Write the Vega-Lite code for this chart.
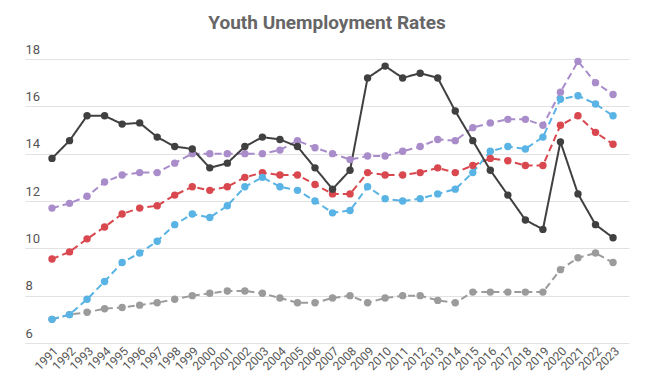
{
"$schema": "https://vega.github.io/schema/vega-lite/v6.json",
"width": 604, "height": 284,
"autosize": {"type": "none"},
"padding": {"left": 25, "top": 59, "right": 21, "bottom": 48},
"background": "white",
"config": {"font": "Roboto", "view": {"stroke": null}},
"title": {"text": "Youth Unemployment Rates", "fontSize": 19, "fontWeight": "bold", "color": "#666666", "font": "Roboto", "frame": "group", "anchor": "middle", "offset": 10},
"data": {"values": [
{"year":1991,"series":"D","value":7.0},{"year":1992,"series":"D","value":7.2},{"year":1993,"series":"D","value":7.3},{"year":1994,"series":"D","value":7.45},{"year":1995,"series":"D","value":7.5},{"year":1996,"series":"D","value":7.6},{"year":1997,"series":"D","value":7.7},{"year":1998,"series":"D","value":7.85},{"year":1999,"series":"D","value":8.0},{"year":2000,"series":"D","value":8.1},{"year":2001,"series":"D","value":8.2},{"year":2002,"series":"D","value":8.2},{"year":2003,"series":"D","value":8.1},{"year":2004,"series":"D","value":7.9},{"year":2005,"series":"D","value":7.7},{"year":2006,"series":"D","value":7.7},{"year":2007,"series":"D","value":7.9},{"year":2008,"series":"D","value":8.0},{"year":2009,"series":"D","value":7.7},{"year":2010,"series":"D","value":7.9},{"year":2011,"series":"D","value":8.0},{"year":2012,"series":"D","value":8.0},{"year":2013,"series":"D","value":7.8},{"year":2014,"series":"D","value":7.7},{"year":2015,"series":"D","value":8.15},{"year":2016,"series":"D","value":8.15},{"year":2017,"series":"D","value":8.15},{"year":2018,"series":"D","value":8.15},{"year":2019,"series":"D","value":8.15},{"year":2020,"series":"D","value":9.1},{"year":2021,"series":"D","value":9.6},{"year":2022,"series":"D","value":9.8},{"year":2023,"series":"D","value":9.4},
{"year":1991,"series":"C","value":11.7},{"year":1992,"series":"C","value":11.9},{"year":1993,"series":"C","value":12.2},{"year":1994,"series":"C","value":12.8},{"year":1995,"series":"C","value":13.1},{"year":1996,"series":"C","value":13.2},{"year":1997,"series":"C","value":13.2},{"year":1998,"series":"C","value":13.6},{"year":1999,"series":"C","value":14.0},{"year":2000,"series":"C","value":14.0},{"year":2001,"series":"C","value":14.0},{"year":2002,"series":"C","value":14.0},{"year":2003,"series":"C","value":14.0},{"year":2004,"series":"C","value":14.15},{"year":2005,"series":"C","value":14.55},{"year":2006,"series":"C","value":14.25},{"year":2007,"series":"C","value":14.0},{"year":2008,"series":"C","value":13.75},{"year":2009,"series":"C","value":13.9},{"year":2010,"series":"C","value":13.9},{"year":2011,"series":"C","value":14.1},{"year":2012,"series":"C","value":14.3},{"year":2013,"series":"C","value":14.6},{"year":2014,"series":"C","value":14.55},{"year":2015,"series":"C","value":15.1},{"year":2016,"series":"C","value":15.3},{"year":2017,"series":"C","value":15.45},{"year":2018,"series":"C","value":15.45},{"year":2019,"series":"C","value":15.2},{"year":2020,"series":"C","value":16.6},{"year":2021,"series":"C","value":17.9},{"year":2022,"series":"C","value":17.0},{"year":2023,"series":"C","value":16.5},
{"year":1991,"series":"B","value":9.55},{"year":1992,"series":"B","value":9.85},{"year":1993,"series":"B","value":10.4},{"year":1994,"series":"B","value":10.9},{"year":1995,"series":"B","value":11.45},{"year":1996,"series":"B","value":11.7},{"year":1997,"series":"B","value":11.8},{"year":1998,"series":"B","value":12.25},{"year":1999,"series":"B","value":12.6},{"year":2000,"series":"B","value":12.45},{"year":2001,"series":"B","value":12.6},{"year":2002,"series":"B","value":13.0},{"year":2003,"series":"B","value":13.2},{"year":2004,"series":"B","value":13.1},{"year":2005,"series":"B","value":13.1},{"year":2006,"series":"B","value":12.7},{"year":2007,"series":"B","value":12.3},{"year":2008,"series":"B","value":12.3},{"year":2009,"series":"B","value":13.2},{"year":2010,"series":"B","value":13.1},{"year":2011,"series":"B","value":13.1},{"year":2012,"series":"B","value":13.2},{"year":2013,"series":"B","value":13.4},{"year":2014,"series":"B","value":13.2},{"year":2015,"series":"B","value":13.5},{"year":2016,"series":"B","value":13.8},{"year":2017,"series":"B","value":13.7},{"year":2018,"series":"B","value":13.5},{"year":2019,"series":"B","value":13.5},{"year":2020,"series":"B","value":15.2},{"year":2021,"series":"B","value":15.6},{"year":2022,"series":"B","value":14.9},{"year":2023,"series":"B","value":14.4},
{"year":1991,"series":"E","value":7.0},{"year":1992,"series":"E","value":7.2},{"year":1993,"series":"E","value":7.85},{"year":1994,"series":"E","value":8.6},{"year":1995,"series":"E","value":9.4},{"year":1996,"series":"E","value":9.8},{"year":1997,"series":"E","value":10.3},{"year":1998,"series":"E","value":11.0},{"year":1999,"series":"E","value":11.45},{"year":2000,"series":"E","value":11.3},{"year":2001,"series":"E","value":11.8},{"year":2002,"series":"E","value":12.6},{"year":2003,"series":"E","value":13.0},{"year":2004,"series":"E","value":12.6},{"year":2005,"series":"E","value":12.45},{"year":2006,"series":"E","value":12.0},{"year":2007,"series":"E","value":11.5},{"year":2008,"series":"E","value":11.6},{"year":2009,"series":"E","value":12.6},{"year":2010,"series":"E","value":12.1},{"year":2011,"series":"E","value":12.0},{"year":2012,"series":"E","value":12.1},{"year":2013,"series":"E","value":12.3},{"year":2014,"series":"E","value":12.5},{"year":2015,"series":"E","value":13.2},{"year":2016,"series":"E","value":14.1},{"year":2017,"series":"E","value":14.3},{"year":2018,"series":"E","value":14.2},{"year":2019,"series":"E","value":14.7},{"year":2020,"series":"E","value":16.3},{"year":2021,"series":"E","value":16.45},{"year":2022,"series":"E","value":16.1},{"year":2023,"series":"E","value":15.6},
{"year":1991,"series":"A","value":13.8},{"year":1992,"series":"A","value":14.55},{"year":1993,"series":"A","value":15.6},{"year":1994,"series":"A","value":15.6},{"year":1995,"series":"A","value":15.25},{"year":1996,"series":"A","value":15.3},{"year":1997,"series":"A","value":14.7},{"year":1998,"series":"A","value":14.3},{"year":1999,"series":"A","value":14.2},{"year":2000,"series":"A","value":13.4},{"year":2001,"series":"A","value":13.6},{"year":2002,"series":"A","value":14.3},{"year":2003,"series":"A","value":14.7},{"year":2004,"series":"A","value":14.6},{"year":2005,"series":"A","value":14.3},{"year":2006,"series":"A","value":13.4},{"year":2007,"series":"A","value":12.5},{"year":2008,"series":"A","value":13.3},{"year":2009,"series":"A","value":17.2},{"year":2010,"series":"A","value":17.7},{"year":2011,"series":"A","value":17.2},{"year":2012,"series":"A","value":17.4},{"year":2013,"series":"A","value":17.2},{"year":2014,"series":"A","value":15.8},{"year":2015,"series":"A","value":14.55},{"year":2016,"series":"A","value":13.3},{"year":2017,"series":"A","value":12.25},{"year":2018,"series":"A","value":11.2},{"year":2019,"series":"A","value":10.8},{"year":2020,"series":"A","value":14.5},{"year":2021,"series":"A","value":12.3},{"year":2022,"series":"A","value":11.0},{"year":2023,"series":"A","value":10.45}
]},
"encoding": {
  "x": {"field": "year", "type": "quantitative",
    "scale": {"domain": [1989.46, 2023.91], "nice": false, "zero": false},
    "axis": {"title": null, "values": [1991,1992,1993,1994,1995,1996,1997,1998,1999,2000,2001,2002,2003,2004,2005,2006,2007,2008,2009,2010,2011,2012,2013,2014,2015,2016,2017,2018,2019,2020,2021,2022,2023],
      "format": "d", "labelAngle": -45, "labelAlign": "right", "labelBaseline": "top", "labelOverlap": false, "labelPadding": 2,
      "labelFontSize": 12, "labelColor": "#555555", "labelFont": "Roboto", "domain": false, "ticks": false, "tickSize": 0, "grid": false}},
  "y": {"field": "value", "type": "quantitative",
    "scale": {"domain": [6, 18], "nice": false, "zero": false},
    "axis": {"title": null, "values": [6,8,10,12,14,16,18], "domain": false, "ticks": false, "tickSize": 0,
      "labelAlign": "left", "labelBaseline": "bottom", "labelPadding": 0, "labelOffset": -3,
      "labelFontSize": 13, "labelColor": "#555555", "labelFont": "Roboto",
      "gridColor": "#e2e2e2", "gridWidth": 1.2}},
  "color": {"field": "series", "type": "nominal", "legend": null,
    "scale": {"domain": ["A","B","C","D","E"], "range": ["#404040","#d9484f","#a98cca","#9b9b9b","#59b3e4"]}}
},
"layer": [
  {"mark": {"type": "line", "strokeWidth": 2},
   "encoding": {"strokeDash": {"field": "series", "type": "nominal", "legend": null,
      "scale": {"domain": ["A","B","C","D","E"], "range": [[1,0],[7,4],[7,4],[7,4],[7,4]]}},
      "order": {"field": "year"}}},
  {"mark": {"type": "circle", "size": 55, "opacity": 1}}
]
}
